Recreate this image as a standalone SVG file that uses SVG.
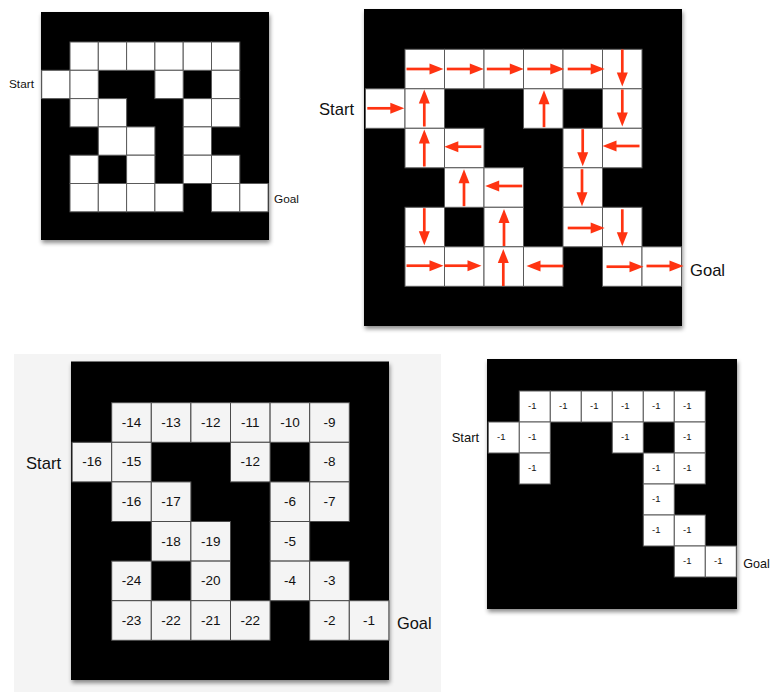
<svg xmlns="http://www.w3.org/2000/svg" xmlns:xlink="http://www.w3.org/1999/xlink" width="775" height="692" viewBox="0 0 775 692">
<defs>
<filter id="sh" x="-10%" y="-10%" width="125%" height="125%"><feDropShadow dx="1" dy="3" stdDeviation="2" flood-color="#000" flood-opacity="0.45"/></filter>
<g id="ar"><line x1="-18.5" y1="0" x2="6" y2="0" stroke="#ff3311" stroke-width="2.7"/><polygon points="4.5,-5.5 18.5,0 4.5,5.5" fill="#ff3311"/></g>
</defs>
<style>
.box{fill:#000;filter:url(#sh)}
.c{fill:#fff;stroke:#5a5a5a;stroke-width:1}
.g{fill:#f4f4f4;stroke:#4a4a4a;stroke-width:1}
.lbl{font-family:"Liberation Sans",Arial,sans-serif;fill:#111}
.n{font-family:"Liberation Sans",Arial,sans-serif;fill:#111;font-size:13.5px;text-anchor:middle}
.m{font-family:"Liberation Sans",Arial,sans-serif;fill:#111;font-size:9.5px;text-anchor:middle}
</style>
<rect width="775" height="692" fill="#fff"/>

<g id="maze1">
<rect class="box" x="41" y="12" width="228" height="228"/>
<rect class="c" x="70" y="42" width="28.3" height="28.3"/>
<rect class="c" x="98.3" y="42" width="28.3" height="28.3"/>
<rect class="c" x="126.6" y="42" width="28.3" height="28.3"/>
<rect class="c" x="154.9" y="42" width="28.3" height="28.3"/>
<rect class="c" x="183.2" y="42" width="28.3" height="28.3"/>
<rect class="c" x="211.5" y="42" width="28.3" height="28.3"/>
<rect class="c" x="41.7" y="70.3" width="28.3" height="28.3"/>
<rect class="c" x="70" y="70.3" width="28.3" height="28.3"/>
<rect class="c" x="154.9" y="70.3" width="28.3" height="28.3"/>
<rect class="c" x="211.5" y="70.3" width="28.3" height="28.3"/>
<rect class="c" x="70" y="98.6" width="28.3" height="28.3"/>
<rect class="c" x="98.3" y="98.6" width="28.3" height="28.3"/>
<rect class="c" x="183.2" y="98.6" width="28.3" height="28.3"/>
<rect class="c" x="211.5" y="98.6" width="28.3" height="28.3"/>
<rect class="c" x="98.3" y="126.9" width="28.3" height="28.3"/>
<rect class="c" x="126.6" y="126.9" width="28.3" height="28.3"/>
<rect class="c" x="183.2" y="126.9" width="28.3" height="28.3"/>
<rect class="c" x="70" y="155.2" width="28.3" height="28.3"/>
<rect class="c" x="126.6" y="155.2" width="28.3" height="28.3"/>
<rect class="c" x="183.2" y="155.2" width="28.3" height="28.3"/>
<rect class="c" x="211.5" y="155.2" width="28.3" height="28.3"/>
<rect class="c" x="70" y="183.5" width="28.3" height="28.3"/>
<rect class="c" x="98.3" y="183.5" width="28.3" height="28.3"/>
<rect class="c" x="126.6" y="183.5" width="28.3" height="28.3"/>
<rect class="c" x="154.9" y="183.5" width="28.3" height="28.3"/>
<rect class="c" x="211.5" y="183.5" width="28.3" height="28.3"/>
<rect class="c" x="239.8" y="183.5" width="28.3" height="28.3"/>
<text class="lbl" x="9" y="88" font-size="11.8">Start</text>
<text class="lbl" x="274" y="203" font-size="11.8">Goal</text>
</g>

<g id="maze2">
<rect class="box" x="364" y="9" width="318" height="317"/>
<rect class="c" x="405" y="49.3" width="39.5" height="39.5"/>
<rect class="c" x="444.5" y="49.3" width="39.5" height="39.5"/>
<rect class="c" x="484" y="49.3" width="39.5" height="39.5"/>
<rect class="c" x="523.5" y="49.3" width="39.5" height="39.5"/>
<rect class="c" x="563" y="49.3" width="39.5" height="39.5"/>
<rect class="c" x="602.5" y="49.3" width="39.5" height="39.5"/>
<rect class="c" x="365.5" y="88.8" width="39.5" height="39.5"/>
<rect class="c" x="405" y="88.8" width="39.5" height="39.5"/>
<rect class="c" x="523.5" y="88.8" width="39.5" height="39.5"/>
<rect class="c" x="602.5" y="88.8" width="39.5" height="39.5"/>
<rect class="c" x="405" y="128.3" width="39.5" height="39.5"/>
<rect class="c" x="444.5" y="128.3" width="39.5" height="39.5"/>
<rect class="c" x="563" y="128.3" width="39.5" height="39.5"/>
<rect class="c" x="602.5" y="128.3" width="39.5" height="39.5"/>
<rect class="c" x="444.5" y="167.8" width="39.5" height="39.5"/>
<rect class="c" x="484" y="167.8" width="39.5" height="39.5"/>
<rect class="c" x="563" y="167.8" width="39.5" height="39.5"/>
<rect class="c" x="405" y="207.3" width="39.5" height="39.5"/>
<rect class="c" x="484" y="207.3" width="39.5" height="39.5"/>
<rect class="c" x="563" y="207.3" width="39.5" height="39.5"/>
<rect class="c" x="602.5" y="207.3" width="39.5" height="39.5"/>
<rect class="c" x="405" y="246.8" width="39.5" height="39.5"/>
<rect class="c" x="444.5" y="246.8" width="39.5" height="39.5"/>
<rect class="c" x="484" y="246.8" width="39.5" height="39.5"/>
<rect class="c" x="523.5" y="246.8" width="39.5" height="39.5"/>
<rect class="c" x="602.5" y="246.8" width="39.5" height="39.5"/>
<rect class="c" x="642" y="246.8" width="39.5" height="39.5"/>
<text class="lbl" x="319" y="114.5" font-size="16.6">Start</text>
<text class="lbl" x="690" y="275.5" font-size="16.6">Goal</text>
</g>

<g id="connectors">
<use xlink:href="#ar" transform="translate(425,69)"/>
<use xlink:href="#ar" transform="translate(465.3,69)"/>
<use xlink:href="#ar" transform="translate(505.3,69)"/>
<use xlink:href="#ar" transform="translate(545.8,69)"/>
<use xlink:href="#ar" transform="translate(586.2,69)"/>
<use xlink:href="#ar" transform="translate(622.3,68) rotate(90)"/>
<use xlink:href="#ar" transform="translate(385.8,108.3)"/>
<use xlink:href="#ar" transform="translate(424.3,108) rotate(-90)"/>
<use xlink:href="#ar" transform="translate(544,108.7) rotate(-90)"/>
<use xlink:href="#ar" transform="translate(622.3,108) rotate(90)"/>
<use xlink:href="#ar" transform="translate(424.3,148) rotate(-90)"/>
<use xlink:href="#ar" transform="translate(462.8,146.7) rotate(180)"/>
<use xlink:href="#ar" transform="translate(582.7,147.7) rotate(90)"/>
<use xlink:href="#ar" transform="translate(621,146) rotate(180)"/>
<use xlink:href="#ar" transform="translate(464,187.7) rotate(-90)"/>
<use xlink:href="#ar" transform="translate(503.7,186) rotate(180)"/>
<use xlink:href="#ar" transform="translate(582,187.7) rotate(90)"/>
<use xlink:href="#ar" transform="translate(424.3,226.7) rotate(90)"/>
<use xlink:href="#ar" transform="translate(504,227.5) rotate(-90)"/>
<use xlink:href="#ar" transform="translate(586.2,228)"/>
<use xlink:href="#ar" transform="translate(622.3,227.8) rotate(90)"/>
<use xlink:href="#ar" transform="translate(425,265.7)"/>
<use xlink:href="#ar" transform="translate(463,265.7)"/>
<use xlink:href="#ar" transform="translate(503.3,267.5) rotate(-90)"/>
<use xlink:href="#ar" transform="translate(545,266) rotate(180)"/>
<use xlink:href="#ar" transform="translate(625,266.7)"/>
<use xlink:href="#ar" transform="translate(665,266)"/>
</g>

<g id="maze3">
<rect x="14" y="354" width="427" height="338" fill="#f4f4f4"/>
<rect class="box" x="71" y="361.5" width="318" height="318.5"/>
<rect class="g" x="111.7" y="402.7" width="39.6" height="39.6"/>
<rect class="g" x="151.3" y="402.7" width="39.6" height="39.6"/>
<rect class="g" x="190.9" y="402.7" width="39.6" height="39.6"/>
<rect class="g" x="230.5" y="402.7" width="39.6" height="39.6"/>
<rect class="g" x="270.1" y="402.7" width="39.6" height="39.6"/>
<rect class="g" x="309.7" y="402.7" width="39.6" height="39.6"/>
<rect class="g" x="72.1" y="442.3" width="39.6" height="39.6"/>
<rect class="g" x="111.7" y="442.3" width="39.6" height="39.6"/>
<rect class="g" x="230.5" y="442.3" width="39.6" height="39.6"/>
<rect class="g" x="309.7" y="442.3" width="39.6" height="39.6"/>
<rect class="g" x="111.7" y="481.9" width="39.6" height="39.6"/>
<rect class="g" x="151.3" y="481.9" width="39.6" height="39.6"/>
<rect class="g" x="270.1" y="481.9" width="39.6" height="39.6"/>
<rect class="g" x="309.7" y="481.9" width="39.6" height="39.6"/>
<rect class="g" x="151.3" y="521.5" width="39.6" height="39.6"/>
<rect class="g" x="190.9" y="521.5" width="39.6" height="39.6"/>
<rect class="g" x="270.1" y="521.5" width="39.6" height="39.6"/>
<rect class="g" x="111.7" y="561.1" width="39.6" height="39.6"/>
<rect class="g" x="190.9" y="561.1" width="39.6" height="39.6"/>
<rect class="g" x="270.1" y="561.1" width="39.6" height="39.6"/>
<rect class="g" x="309.7" y="561.1" width="39.6" height="39.6"/>
<rect class="g" x="111.7" y="600.7" width="39.6" height="39.6"/>
<rect class="g" x="151.3" y="600.7" width="39.6" height="39.6"/>
<rect class="g" x="190.9" y="600.7" width="39.6" height="39.6"/>
<rect class="g" x="230.5" y="600.7" width="39.6" height="39.6"/>
<rect class="g" x="309.7" y="600.7" width="39.6" height="39.6"/>
<rect class="g" x="349.3" y="600.7" width="39.6" height="39.6"/>
<text class="n" x="131.5" y="426.7">-14</text>
<text class="n" x="171.1" y="426.7">-13</text>
<text class="n" x="210.7" y="426.7">-12</text>
<text class="n" x="250.3" y="426.7">-11</text>
<text class="n" x="289.9" y="426.7">-10</text>
<text class="n" x="329.5" y="426.7">-9</text>
<text class="n" x="91.9" y="466.3">-16</text>
<text class="n" x="131.5" y="466.3">-15</text>
<text class="n" x="250.3" y="466.3">-12</text>
<text class="n" x="329.5" y="466.3">-8</text>
<text class="n" x="131.5" y="505.9">-16</text>
<text class="n" x="171.1" y="505.9">-17</text>
<text class="n" x="289.9" y="505.9">-6</text>
<text class="n" x="329.5" y="505.9">-7</text>
<text class="n" x="171.1" y="545.5">-18</text>
<text class="n" x="210.7" y="545.5">-19</text>
<text class="n" x="289.9" y="545.5">-5</text>
<text class="n" x="131.5" y="585.1">-24</text>
<text class="n" x="210.7" y="585.1">-20</text>
<text class="n" x="289.9" y="585.1">-4</text>
<text class="n" x="329.5" y="585.1">-3</text>
<text class="n" x="131.5" y="624.7">-23</text>
<text class="n" x="171.1" y="624.7">-22</text>
<text class="n" x="210.7" y="624.7">-21</text>
<text class="n" x="250.3" y="624.7">-22</text>
<text class="n" x="329.5" y="624.7">-2</text>
<text class="n" x="369.1" y="624.7">-1</text>
<text class="lbl" x="26" y="469" font-size="16.6">Start</text>
<text class="lbl" x="397" y="629" font-size="16.4">Goal</text>
</g>

<g id="maze4">
<rect class="box" x="487" y="359" width="250" height="250"/>
<rect class="c" x="519.3" y="391" width="31" height="31"/>
<rect class="c" x="550.3" y="391" width="31" height="31"/>
<rect class="c" x="581.3" y="391" width="31" height="31"/>
<rect class="c" x="612.3" y="391" width="31" height="31"/>
<rect class="c" x="643.3" y="391" width="31" height="31"/>
<rect class="c" x="674.3" y="391" width="31" height="31"/>
<rect class="c" x="488.3" y="422" width="31" height="31"/>
<rect class="c" x="519.3" y="422" width="31" height="31"/>
<rect class="c" x="612.3" y="422" width="31" height="31"/>
<rect class="c" x="674.3" y="422" width="31" height="31"/>
<rect class="c" x="519.3" y="453" width="31" height="31"/>
<rect class="c" x="643.3" y="453" width="31" height="31"/>
<rect class="c" x="674.3" y="453" width="31" height="31"/>
<rect class="c" x="643.3" y="484" width="31" height="31"/>
<rect class="c" x="643.3" y="515" width="31" height="31"/>
<rect class="c" x="674.3" y="515" width="31" height="31"/>
<rect class="c" x="674.3" y="546" width="31" height="31"/>
<rect class="c" x="705.3" y="546" width="31" height="31"/>
<text class="m" x="532.3" y="408.5">-1</text>
<text class="m" x="563.3" y="408.5">-1</text>
<text class="m" x="594.3" y="408.5">-1</text>
<text class="m" x="625.3" y="408.5">-1</text>
<text class="m" x="656.3" y="408.5">-1</text>
<text class="m" x="687.3" y="408.5">-1</text>
<text class="m" x="501.3" y="439.5">-1</text>
<text class="m" x="532.3" y="439.5">-1</text>
<text class="m" x="625.3" y="439.5">-1</text>
<text class="m" x="687.3" y="439.5">-1</text>
<text class="m" x="532.3" y="470.5">-1</text>
<text class="m" x="656.3" y="470.5">-1</text>
<text class="m" x="687.3" y="470.5">-1</text>
<text class="m" x="656.3" y="501.5">-1</text>
<text class="m" x="656.3" y="532.5">-1</text>
<text class="m" x="687.3" y="532.5">-1</text>
<text class="m" x="687.3" y="563.5">-1</text>
<text class="m" x="718.3" y="563.5">-1</text>
<text class="lbl" x="451.7" y="442" font-size="13">Start</text>
<text class="lbl" x="743.3" y="567.5" font-size="12.6">Goal</text>
</g>
</svg>
